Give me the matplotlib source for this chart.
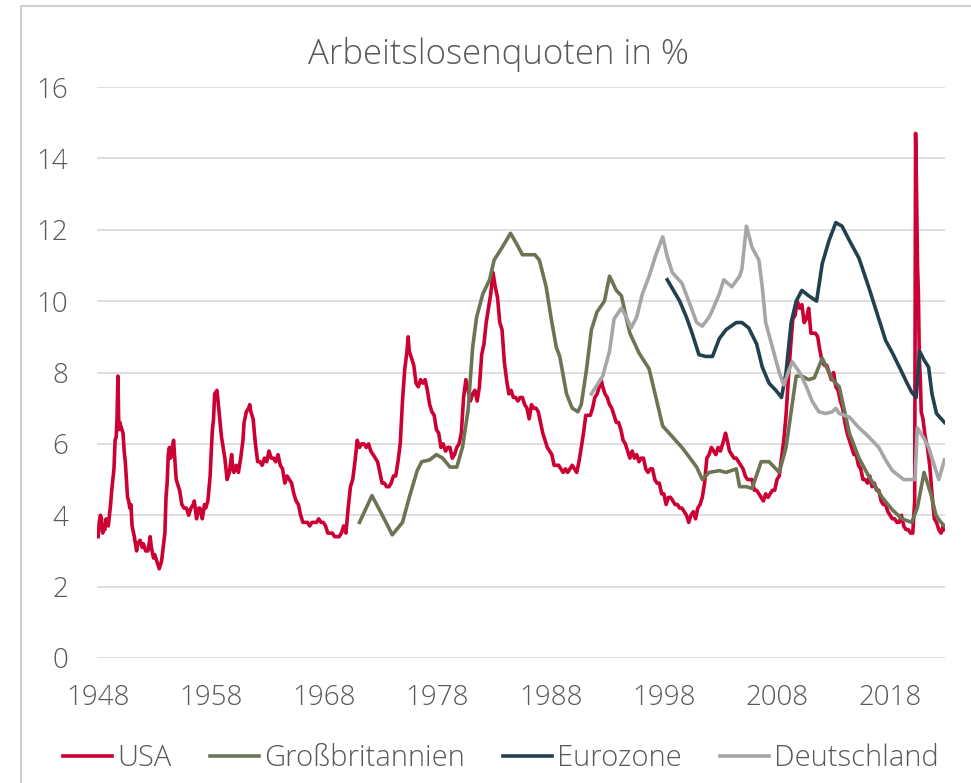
import matplotlib.pyplot as plt
from matplotlib.patches import Rectangle

# ---- data ----
usa_years = [1948.0, 1948.1, 1948.2, 1948.3, 1948.4, 1948.5, 1948.6, 1948.7, 1948.8, 1948.9,
             1949.0, 1949.1, 1949.2, 1949.3, 1949.4, 1949.5, 1949.6, 1949.67, 1949.75, 1949.83,
             1949.92, 1950.0, 1950.1, 1950.2, 1950.3, 1950.4, 1950.5, 1950.6, 1950.7, 1950.8,
             1950.9, 1951.0, 1951.2, 1951.4, 1951.5, 1951.7, 1951.9, 1952.0, 1952.2, 1952.4,
             1952.5, 1952.6, 1952.7, 1952.9, 1953.0, 1953.2, 1953.4, 1953.5, 1953.6, 1953.75,
             1953.9, 1954.0, 1954.1, 1954.2, 1954.3, 1954.4, 1954.5, 1954.67, 1954.75, 1954.9,
             1955.0, 1955.2, 1955.4, 1955.6, 1955.8, 1956.0, 1956.2, 1956.4, 1956.5, 1956.7,
             1956.9, 1957.0, 1957.2, 1957.4, 1957.5, 1957.7, 1957.9, 1958.0, 1958.1, 1958.2,
             1958.3, 1958.5, 1958.6, 1958.75, 1958.9, 1959.0, 1959.2, 1959.4, 1959.5, 1959.6,
             1959.8, 1959.9, 1960.0, 1960.2, 1960.4, 1960.6, 1960.8, 1960.9, 1961.1, 1961.3,
             1961.4, 1961.5, 1961.7, 1961.9, 1962.1, 1962.3, 1962.5, 1962.7, 1962.9, 1963.1,
             1963.3, 1963.5, 1963.7, 1963.9, 1964.1, 1964.3, 1964.5, 1964.7, 1964.9, 1965.1,
             1965.3, 1965.5, 1965.7, 1965.9, 1966.1, 1966.3, 1966.5, 1966.7, 1966.9, 1967.1,
             1967.3, 1967.5, 1967.7, 1967.9, 1968.1, 1968.3, 1968.5, 1968.7, 1968.9, 1969.1,
             1969.3, 1969.5, 1969.7, 1969.9, 1970.1, 1970.3, 1970.5, 1970.7, 1970.9, 1971.1,
             1971.3, 1971.5, 1971.7, 1971.9, 1972.1, 1972.3, 1972.5, 1972.7, 1972.9, 1973.1,
             1973.3, 1973.5, 1973.7, 1973.9, 1974.1, 1974.3, 1974.5, 1974.7, 1974.9, 1975.1,
             1975.3, 1975.4, 1975.5, 1975.7, 1975.9, 1976.1, 1976.3, 1976.5, 1976.7, 1976.9,
             1977.1, 1977.3, 1977.5, 1977.7, 1977.9, 1978.1, 1978.3, 1978.5, 1978.7, 1978.9,
             1979.1, 1979.3, 1979.5, 1979.7, 1979.9, 1980.1, 1980.3, 1980.5, 1980.7, 1980.9,
             1981.1, 1981.3, 1981.5, 1981.7, 1981.9, 1982.1, 1982.3, 1982.5, 1982.7, 1982.9,
             1983.1, 1983.3, 1983.5, 1983.7, 1983.9, 1984.1, 1984.3, 1984.5, 1984.7, 1984.9,
             1985.1, 1985.3, 1985.5, 1985.7, 1985.9, 1986.1, 1986.3, 1986.5, 1986.7, 1986.9,
             1987.1, 1987.3, 1987.5, 1987.7, 1987.9, 1988.1, 1988.3, 1988.5, 1988.7, 1988.9,
             1989.1, 1989.3, 1989.5, 1989.7, 1989.9, 1990.1, 1990.3, 1990.5, 1990.7, 1990.9,
             1991.1, 1991.3, 1991.5, 1991.7, 1991.9, 1992.1, 1992.3, 1992.45, 1992.6, 1992.8,
             1993.0, 1993.2, 1993.4, 1993.6, 1993.8, 1994.0, 1994.2, 1994.4, 1994.6, 1994.8,
             1995.0, 1995.2, 1995.4, 1995.6, 1995.8, 1996.0, 1996.2, 1996.4, 1996.6, 1996.8,
             1997.0, 1997.2, 1997.4, 1997.6, 1997.8, 1998.0, 1998.2, 1998.4, 1998.6, 1998.8,
             1999.0, 1999.2, 1999.4, 1999.6, 1999.8, 2000.0, 2000.2, 2000.4, 2000.6, 2000.8,
             2001.0, 2001.2, 2001.4, 2001.6, 2001.8, 2002.0, 2002.2, 2002.4, 2002.6, 2002.8,
             2003.0, 2003.2, 2003.45, 2003.6, 2003.8, 2004.0, 2004.2, 2004.4, 2004.6, 2004.8,
             2005.0, 2005.2, 2005.4, 2005.6, 2005.8, 2006.0, 2006.2, 2006.4, 2006.6, 2006.8,
             2007.0, 2007.2, 2007.4, 2007.6, 2007.8, 2008.0, 2008.2, 2008.4, 2008.6, 2008.8,
             2009.0, 2009.2, 2009.4, 2009.6, 2009.8, 2010.0, 2010.2, 2010.4, 2010.6, 2010.8,
             2011.0, 2011.2, 2011.4, 2011.6, 2011.8, 2012.0, 2012.2, 2012.4, 2012.6, 2012.8,
             2013.0, 2013.2, 2013.4, 2013.6, 2013.8, 2014.0, 2014.2, 2014.4, 2014.6, 2014.8,
             2015.0, 2015.2, 2015.4, 2015.6, 2015.8, 2016.0, 2016.2, 2016.4, 2016.6, 2016.8,
             2017.0, 2017.2, 2017.4, 2017.6, 2017.8, 2018.0, 2018.2, 2018.4, 2018.6, 2018.8,
             2019.0, 2019.2, 2019.4, 2019.6, 2019.8, 2020.0, 2020.17, 2020.25, 2020.33, 2020.42,
             2020.5, 2020.58, 2020.67, 2020.75, 2020.9, 2021.1, 2021.3, 2021.5, 2021.7, 2021.9,
             2022.1, 2022.3, 2022.5, 2022.7, 2022.8]
usa_values = [3.4, 3.8, 4.0, 3.9, 3.5, 3.6, 3.6, 3.9, 3.8, 3.7,
              4.0, 4.3, 4.7, 5.0, 5.3, 6.1, 6.2, 6.7, 7.9, 6.4,
              6.6, 6.5, 6.4, 6.3, 5.8, 5.5, 5.0, 4.5, 4.4, 4.2,
              4.3, 3.7, 3.4, 3.0, 3.2, 3.3, 3.1, 3.2, 3.0, 3.0,
              3.2, 3.4, 3.1, 2.8, 2.9, 2.7, 2.5, 2.6, 2.7, 3.1,
              3.5, 4.5, 4.9, 5.7, 5.9, 5.6, 5.8, 6.1, 5.7, 5.0,
              4.9, 4.7, 4.3, 4.2, 4.2, 4.0, 4.2, 4.3, 4.4, 3.9,
              4.2, 4.2, 3.9, 4.3, 4.2, 4.4, 5.1, 5.8, 6.4, 6.7,
              7.4, 7.5, 7.2, 6.7, 6.2, 6.0, 5.6, 5.0, 5.1, 5.2,
              5.7, 5.3, 5.2, 5.4, 5.2, 5.6, 6.1, 6.6, 6.9, 7.0,
              7.1, 6.9, 6.7, 6.0, 5.5, 5.5, 5.4, 5.6, 5.5, 5.8,
              5.6, 5.6, 5.5, 5.7, 5.4, 5.3, 4.9, 5.1, 5.0, 4.9,
              4.6, 4.4, 4.3, 4.0, 3.8, 3.8, 3.8, 3.7, 3.8, 3.8,
              3.8, 3.9, 3.8, 3.8, 3.7, 3.5, 3.5, 3.5, 3.4, 3.4,
              3.4, 3.5, 3.7, 3.5, 4.2, 4.8, 5.0, 5.5, 6.1, 5.9,
              6.0, 6.0, 5.9, 6.0, 5.8, 5.7, 5.6, 5.5, 5.2, 4.9,
              4.9, 4.8, 4.8, 4.9, 5.1, 5.1, 5.5, 6.0, 7.2, 8.1,
              8.6, 9.0, 8.6, 8.4, 8.2, 7.7, 7.6, 7.8, 7.7, 7.8,
              7.5, 7.1, 6.9, 6.8, 6.4, 6.3, 5.9, 6.0, 5.8, 5.9,
              5.9, 5.6, 5.7, 5.9, 6.0, 6.3, 7.3, 7.8, 7.5, 7.2,
              7.4, 7.5, 7.2, 7.6, 8.5, 8.8, 9.4, 9.8, 10.2, 10.8,
              10.4, 10.1, 9.4, 9.2, 8.3, 7.8, 7.4, 7.5, 7.3, 7.3,
              7.2, 7.3, 7.3, 7.1, 7.0, 6.7, 7.1, 7.0, 7.0, 6.9,
              6.6, 6.3, 6.1, 5.9, 5.8, 5.7, 5.4, 5.4, 5.4, 5.3,
              5.2, 5.3, 5.2, 5.3, 5.4, 5.3, 5.2, 5.5, 5.9, 6.3,
              6.8, 6.8, 6.8, 7.0, 7.3, 7.4, 7.6, 7.8, 7.6, 7.4,
              7.3, 7.1, 7.0, 6.8, 6.6, 6.6, 6.4, 6.1, 6.0, 5.8,
              5.6, 5.8, 5.6, 5.7, 5.5, 5.6, 5.6, 5.3, 5.2, 5.3,
              5.3, 5.0, 4.9, 4.9, 4.6, 4.6, 4.3, 4.5, 4.5, 4.4,
              4.3, 4.3, 4.2, 4.2, 4.1, 4.0, 3.8, 4.0, 4.1, 3.9,
              4.2, 4.3, 4.5, 4.9, 5.6, 5.7, 5.9, 5.8, 5.7, 5.9,
              5.8, 6.0, 6.3, 6.1, 5.8, 5.7, 5.6, 5.6, 5.5, 5.4,
              5.3, 5.1, 5.0, 5.0, 5.0, 4.7, 4.7, 4.6, 4.5, 4.4,
              4.6, 4.5, 4.6, 4.7, 4.7, 5.0, 5.1, 5.6, 6.1, 6.8,
              7.8, 8.7, 9.5, 9.6, 10.0, 9.8, 9.9, 9.4, 9.5, 9.8,
              9.1, 9.1, 9.1, 9.0, 8.6, 8.3, 8.2, 8.2, 8.0, 7.8,
              8.0, 7.6, 7.5, 7.2, 7.0, 6.6, 6.3, 6.1, 5.9, 5.7,
              5.7, 5.4, 5.3, 5.0, 5.0, 4.9, 5.1, 4.8, 4.9, 4.7,
              4.7, 4.4, 4.3, 4.3, 4.1, 4.0, 3.9, 3.9, 3.8, 3.8,
              4.0, 3.7, 3.6, 3.6, 3.5, 3.5, 4.4, 14.7, 13.2, 11.0,
              10.2, 8.4, 7.8, 6.9, 6.7, 6.2, 5.9, 5.4, 4.6, 3.9,
              3.8, 3.6, 3.5, 3.7, 3.6]

uk_years = [1971.1, 1972.2, 1973.2, 1974.0, 1974.9, 1975.5, 1976.2, 1976.6, 1977.3, 1977.9,
            1978.45, 1979.1, 1979.7, 1980.2, 1980.7, 1981.1, 1981.45, 1982.0, 1982.6, 1983.0,
            1983.7, 1984.45, 1985.0, 1985.5, 1986.6, 1987.0, 1987.6, 1988.05, 1988.5, 1988.8,
            1989.4, 1989.9, 1990.4, 1990.7, 1991.15, 1991.6, 1992.1, 1992.75, 1993.2, 1993.8,
            1994.25, 1994.7, 1995.0, 1995.8, 1996.7, 1997.3, 1997.9, 1998.75, 1999.6, 2000.2,
            2000.9, 2001.4, 2002.0, 2002.9, 2003.5, 2004.4, 2004.7, 2005.3, 2005.8, 2006.6,
            2007.3, 2008.2, 2008.8, 2009.7, 2010.2, 2010.8, 2011.3, 2012.0, 2012.9, 2013.5,
            2014.4, 2015.25, 2016.1, 2017.3, 2018.2, 2019.05, 2019.9, 2020.4, 2021.0, 2021.6,
            2022.05, 2022.5, 2022.8]
uk_values = [3.8, 4.55, 3.95, 3.45, 3.8, 4.5, 5.25, 5.5, 5.55, 5.7,
             5.6, 5.35, 5.35, 5.9, 6.95, 8.7, 9.55, 10.2, 10.6, 11.15,
             11.5, 11.9, 11.6, 11.3, 11.3, 11.15, 10.4, 9.5, 8.7, 8.45,
             7.4, 7.0, 6.9, 7.1, 8.05, 9.2, 9.7, 10.0, 10.7, 10.3,
             10.15, 9.5, 9.1, 8.55, 8.1, 7.3, 6.5, 6.2, 5.9, 5.65,
             5.35, 5.0, 5.2, 5.25, 5.2, 5.3, 4.8, 4.8, 4.75, 5.5,
             5.5, 5.2, 5.9, 7.9, 7.9, 7.8, 7.85, 8.4, 7.8, 7.6,
             6.3, 5.6, 5.1, 4.5, 4.15, 3.9, 3.8, 4.2, 5.2, 4.6,
             4.0, 3.8, 3.7]

ez_years = [1998.3, 1999.4, 2000.0, 2000.5, 2001.1, 2001.7, 2002.3, 2002.9, 2003.5, 2004.4,
            2004.9, 2005.5, 2006.2, 2006.7, 2007.3, 2007.9, 2008.4, 2008.8, 2009.25, 2009.7,
            2010.2, 2010.8, 2011.5, 2012.0, 2012.6, 2013.2, 2013.75, 2014.4, 2015.25, 2016.1,
            2017.0, 2017.6, 2018.2, 2019.05, 2019.5, 2019.9, 2020.3, 2020.6, 2021.0, 2021.4,
            2021.7, 2022.1, 2022.8]
ez_values = [10.6, 10.0, 9.55, 9.1, 8.5, 8.45, 8.45, 8.95, 9.2, 9.4,
             9.4, 9.25, 8.8, 8.15, 7.7, 7.5, 7.3, 8.0, 9.4, 10.0,
             10.3, 10.15, 10.0, 11.05, 11.7, 12.2, 12.1, 11.7, 11.2, 10.4,
             9.5, 8.9, 8.55, 8.0, 7.7, 7.45, 7.3, 8.6, 8.35, 8.15,
             7.4, 6.85, 6.6]

de_years = [1991.6, 1992.6, 1993.2, 1993.6, 1994.25, 1994.7, 1995.1, 1995.6, 1996.1, 1996.7,
            1997.3, 1997.9, 1998.3, 1998.75, 1999.6, 2000.2, 2000.9, 2001.4, 2002.0, 2002.3,
            2002.9, 2003.3, 2004.0, 2004.7, 2004.9, 2005.3, 2005.8, 2006.4, 2006.7, 2007.0,
            2007.6, 2008.2, 2008.6, 2009.1, 2009.35, 2010.0, 2010.6, 2011.1, 2011.7, 2012.3,
            2012.9, 2013.2, 2013.5, 2014.4, 2015.25, 2016.1, 2017.0, 2017.6, 2018.2, 2018.8,
            2019.2, 2020.2, 2020.4, 2021.0, 2021.4, 2021.9, 2022.3, 2022.8]
de_values = [7.4, 7.9, 8.6, 9.5, 9.8, 9.55, 9.25, 9.55, 10.2, 10.7,
             11.3, 11.8, 11.25, 10.8, 10.5, 10.0, 9.4, 9.3, 9.55, 9.75,
             10.2, 10.6, 10.4, 10.7, 10.9, 12.1, 11.5, 11.15, 10.4, 9.4,
             8.7, 8.0, 7.65, 8.1, 8.3, 8.0, 7.6, 7.2, 6.9, 6.85,
             6.9, 7.0, 6.85, 6.75, 6.45, 6.2, 5.9, 5.55, 5.25, 5.1,
             5.0, 5.0, 6.45, 6.15, 5.9, 5.4, 5.0, 5.55]

series_names = ['USA', 'Großbritannien', 'Eurozone', 'Deutschland']
series_colors = ['#CC0033', '#6B7554', '#23404F', '#A6A6A6']
year_ticks = [1948, 1958, 1968, 1978, 1988, 1998, 2008, 2018]
value_ticks = [0, 2, 4, 6, 8, 10, 12, 14, 16]

# ---- drawing ----
plt.rcParams['font.family'] = ['Open Sans', 'DejaVu Sans']
text_grey = '#595959'

fig = plt.figure(figsize=(9.71, 7.83), dpi=100)
ax = fig.add_axes([97 / 971, 1 - 658 / 783, (945 - 97) / 971, (658 - 87) / 783])

all_series = [(usa_years, usa_values), (uk_years, uk_values),
              (ez_years, ez_values), (de_years, de_values)]
for (xs, ys), name, col in zip(all_series, series_names, series_colors):
    ax.plot(xs, ys, color=col, lw=2.6, label=name, solid_joinstyle='round')

ax.set_xlim(1947.9, 2022.85)
ax.set_ylim(0, 16)
ax.set_xticks(year_ticks)
ax.set_yticks(value_ticks)
ax.grid(axis='y', color='#D9D9D9', lw=1.2)
ax.set_axisbelow(True)
for s in ax.spines.values():
    s.set_visible(False)
ax.tick_params(length=0, labelsize=20, labelcolor=text_grey)
ax.tick_params(axis='y', pad=21)
ax.tick_params(axis='x', pad=19)
for lbl in ax.get_xticklabels() + ax.get_yticklabels():
    lbl.set_fontweight('light')

fig.text(498 / 971, 1 - 55 / 783, 'Arbeitslosenquoten in %', ha='center', va='center',
         fontsize=25, color=text_grey, fontweight='light')

leg = fig.legend(loc='center', bbox_to_anchor=(501 / 971, 1 - 758 / 783), ncol=4,
                 frameon=False, fontsize=21, handlelength=1.7, handletextpad=0.17,
                 columnspacing=1.3)
for t in leg.get_texts():
    t.set_color(text_grey)
    t.set_fontweight('light')

# outer frame of the chart area
fig.patches.append(Rectangle((21 / 971, -0.2), 1.2, 1.2 - 6 / 783, transform=fig.transFigure,
                             fill=False, edgecolor='#D0D0D0', lw=1.5))

fig.savefig('out.png', dpi=100)
